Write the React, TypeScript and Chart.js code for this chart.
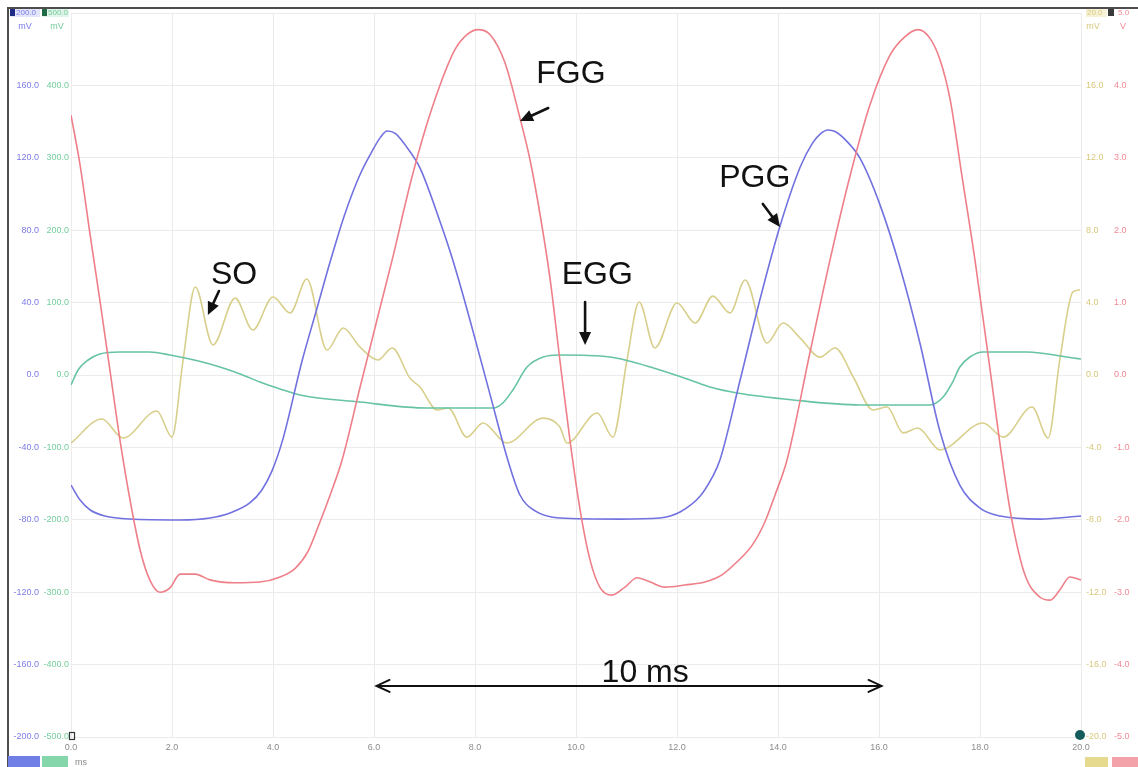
import React, { useEffect, useRef } from 'react';
import { Chart, registerables } from 'chart.js';

Chart.register(...registerables);

// ---- FGG (red, V) ----
const fggTimes = [
  0, 0.18, 0.38, 0.57, 0.77, 0.97, 1.17, 1.37, 1.56, 1.76,
  1.96, 2.16, 2.46, 2.75, 3.25, 3.74, 4.14, 4.44, 4.69, 4.93,
  5.13, 5.37, 5.72, 6.12, 6.36, 6.71, 7.01, 7.31, 7.6, 7.84,
  8.06, 8.3, 8.59, 8.89, 9.09, 9.29, 9.49, 9.68, 9.88, 10.08,
  10.28, 10.48, 10.71, 10.97, 11.21, 11.47, 11.76, 12.16, 12.55, 12.89,
  13.19, 13.49, 13.74, 13.94, 14.18, 14.63, 15.03, 15.43, 15.82, 16.22,
  16.51, 16.77, 17.01, 17.21, 17.41, 17.64, 17.9, 18.2, 18.44, 18.63,
  18.89, 19.19, 19.39, 19.58, 19.78, 20,
];
const fggVolts = [
  3.59, 2.9, 1.93, 1.04, 0.07, -0.9, -1.73, -2.42, -2.83, -3.0,
  -2.94, -2.75, -2.75, -2.83, -2.87, -2.86, -2.79, -2.67, -2.44, -2.03,
  -1.66, -1.17, -0.18, 0.93, 1.59, 2.62, 3.38, 4.01, 4.49, 4.7,
  4.77, 4.7, 4.32, 3.55, 2.97, 2.21, 1.31, 0.21, -0.9, -1.86,
  -2.56, -2.94, -3.04, -2.93, -2.8, -2.86, -2.93, -2.9, -2.86, -2.76,
  -2.58, -2.35, -2.03, -1.66, -1.17, 0.3, 1.59, 2.76, 3.73, 4.42,
  4.67, 4.77, 4.65, 4.35, 3.8, 2.76, 1.59, 0.07, -1.17, -2.0,
  -2.76, -3.07, -3.11, -2.97, -2.79, -2.83,
];

// ---- PGG (blue, mV) ----
const pggTimes = [
  0, 0.18, 0.38, 0.67, 1.17, 2.16, 2.75, 3.15, 3.54, 3.78,
  3.98, 4.2, 4.57, 4.85, 5.13, 5.43, 5.72, 5.95, 6.12, 6.26,
  6.42, 6.62, 6.91, 7.31, 7.56, 7.9, 8.3, 8.65, 8.89, 9.19,
  9.68, 10.87, 11.66, 12.06, 12.46, 12.69, 12.85, 13.25, 13.64, 14.04,
  14.44, 14.68, 14.85, 14.99, 15.13, 15.35, 15.62, 16.02, 16.42, 16.81,
  17.21, 17.6, 18.0, 18.4, 19.19, 20,
];
const pggMillivolts = [
  -60.8, -69.1, -74.6, -77.9, -79.6, -80.1, -79.0, -76.2, -70.7, -63.5,
  -53.0, -35.0, 7.2, 34.8, 62.4, 89.5, 110.5, 123.0, 131.0, 134.8,
  133.5, 127.0, 114.4, 84.5, 63.5, 30.4, -11.0, -47.0, -66.3, -75.1,
  -79.0, -79.6, -79.0, -75.7, -66.9, -56.9, -47.0, -2.8, 41.4, 82.3,
  114.9, 128.0, 133.5, 135.4, 134.5, 129.5, 119.9, 94.0, 59.1, 17.7,
  -31.5, -60.8, -73.5, -77.9, -79.6, -77.9,
];

// ---- EGG (green, mV) ----
const eggTimes = [
  0, 0.14, 0.34, 0.57, 0.97, 1.56, 1.96, 2.75, 3.35, 3.74,
  4.14, 4.53, 5.72, 7.05, 8.36, 8.55, 8.75, 9.03, 9.35, 9.68,
  10.67, 11.66, 12.26, 12.65, 13.19, 14.3, 15.62, 17.01, 17.27, 17.45,
  17.6, 17.8, 18.06, 18.93, 19.84, 20,
];
const eggMillivolts = [
  -13.8, 6.9, 20.7, 29.0, 31.8, 31.8, 27.6, 15.2, 1.4, -9.7,
  -19.3, -27.6, -37.3, -45.6, -45.6, -38.7, -20.7, 11.0, 24.9, 27.6,
  24.9, 6.9, -6.9, -16.6, -24.9, -34.5, -41.4, -41.4, -30.4, -11.0,
  11.0, 24.9, 31.8, 31.8, 23.5, 22.1,
];

// ---- SO (yellow, mV) ----
const soTimes = [
  0, 0.61, 1.03, 1.7, 2.0, 2.22, 2.46, 2.81, 3.25, 3.6,
  4.0, 4.34, 4.67, 5.07, 5.39, 5.72, 6.08, 6.36, 6.71, 6.91,
  7.25, 7.47, 7.84, 8.16, 8.63, 9.35, 9.68, 9.82, 10.42, 10.73,
  11.01, 11.25, 11.56, 12.0, 12.36, 12.71, 13.05, 13.35, 13.78, 14.1,
  14.44, 14.83, 15.13, 15.49, 15.88, 16.16, 16.48, 16.77, 17.21, 18.06,
  18.46, 19.03, 19.35, 19.58, 19.84, 19.98,
];
const soMillivolts = [
  -3.76, -2.43, -3.48, -1.99, -3.43, 0.83, 4.86, 1.66, 4.25, 2.49,
  4.31, 3.43, 5.3, 1.38, 2.6, 1.55, 0.83, 1.49, -0.17, -0.66,
  -1.93, -1.82, -3.43, -2.65, -3.76, -2.38, -2.87, -3.76, -2.1, -3.43,
  0.83, 4.03, 1.49, 3.98, 2.87, 4.36, 3.43, 5.25, 1.77, 2.87,
  2.04, 0.99, 1.49, -0.11, -1.93, -1.77, -3.2, -2.93, -4.14, -2.65,
  -3.43, -1.77, -3.48, 0.83, 4.59, 4.7,
];

// ---- axis ranges / ticks ----
const timeTicks = { min: 0, max: 20, step: 2 };
const blueAxis = { min: -200, max: 200, step: 40 };
const greenAxis = { min: -500, max: 500, step: 100 };
const yellowAxis = { min: -20, max: 20, step: 4 };
const redAxis = { min: -5, max: 5, step: 1 };

// ---- annotations (time ms, PGG-axis mV) ----
const annotationTexts = ['FGG', 'PGG', 'SO', 'EGG', '10 ms'];
const annotationTextX = [9.9, 13.54, 3.23, 10.42, 11.37];
const annotationTextY = [166, 109, 55, 55, -165];
const arrowFromX = [9.45, 13.7, 2.93, 10.18];
const arrowFromY = [147.5, 94.5, 46.4, 40.3];
const arrowToX = [8.89, 14.04, 2.71, 10.18];
const arrowToY = [140.3, 81.8, 33.1, 16.6];
const spanX = [6.05, 16.05];
const spanY = -171.8;

const COLORS = {
  red: '#ee7f88',
  blue: '#7171e0',
  green: '#66c3a3',
  yellow: '#d9cf8c',
  redTxt: '#f08a94',
  blueTxt: '#7b7be6',
  greenTxt: '#74cc9c',
  yellowTxt: '#d8c87c',
  grid: '#ebebeb',
};

const toPoints = (xs: number[], ys: number[]) => xs.map((x, i) => ({ x, y: ys[i] }));
const fmt = (v: number) => Number(v).toFixed(1);

function filledHead(ctx: CanvasRenderingContext2D, x1: number, y1: number, x2: number, y2: number) {
  const a = Math.atan2(y2 - y1, x2 - x1);
  const len = 13;
  const half = 6;
  ctx.beginPath();
  ctx.moveTo(x2, y2);
  ctx.lineTo(x2 - len * Math.cos(a) + half * Math.sin(a), y2 - len * Math.sin(a) - half * Math.cos(a));
  ctx.lineTo(x2 - len * Math.cos(a) - half * Math.sin(a), y2 - len * Math.sin(a) + half * Math.cos(a));
  ctx.closePath();
  ctx.fill();
}

const decorPlugin = {
  id: 'decor',
  afterDraw(chart: any) {
    const ctx: CanvasRenderingContext2D = chart.ctx;
    const sx = chart.scales.x;
    const sy = chart.scales.yB;
    const W = chart.width;
    const H = chart.height;
    ctx.save();

    // frame
    ctx.strokeStyle = '#4d4d4d';
    ctx.lineWidth = 2;
    ctx.beginPath();
    ctx.moveTo(8, H);
    ctx.lineTo(8, 8);
    ctx.lineTo(W, 8);
    ctx.stroke();

    ctx.font = '8px "Liberation Sans", Arial, sans-serif';
    ctx.textBaseline = 'middle';
    ctx.textAlign = 'left';

    // top-left range boxes
    ctx.fillStyle = '#e3e6fb';
    ctx.fillRect(10, 9, 30, 8);
    ctx.fillStyle = '#1d2a86';
    ctx.fillRect(10, 9, 5, 7);
    ctx.fillStyle = COLORS.blueTxt;
    ctx.fillText(fmt(blueAxis.max), 16, 13);
    ctx.fillStyle = '#e2f5ea';
    ctx.fillRect(42, 9, 27, 8);
    ctx.fillStyle = '#1f6a45';
    ctx.fillRect(42, 9, 5, 7);
    ctx.fillStyle = COLORS.greenTxt;
    ctx.fillText(fmt(greenAxis.max), 48, 13);

    // top-right range boxes
    ctx.fillStyle = '#f8f3d8';
    ctx.fillRect(1086, 9, 21, 8);
    ctx.fillStyle = COLORS.yellowTxt;
    ctx.fillText(fmt(yellowAxis.max), 1087, 13);
    ctx.fillStyle = '#3a3a3a';
    ctx.fillRect(1108, 9, 6, 7);
    ctx.fillStyle = COLORS.redTxt;
    ctx.fillText(fmt(redAxis.max), 1118, 13);

    // units
    ctx.font = '9px "Liberation Sans", Arial, sans-serif';
    ctx.textAlign = 'center';
    ctx.fillStyle = COLORS.blueTxt;
    ctx.fillText('mV', 25, 27);
    ctx.fillStyle = COLORS.greenTxt;
    ctx.fillText('mV', 57, 27);
    ctx.fillStyle = COLORS.yellowTxt;
    ctx.fillText('mV', 1093, 27);
    ctx.fillStyle = COLORS.redTxt;
    ctx.fillText('V', 1123, 27);
    ctx.fillStyle = '#8a8a8a';
    ctx.fillText('ms', 81, 763);

    // bottom boxes
    ctx.fillStyle = '#6f7fe6';
    ctx.fillRect(8, 756, 32, 11);
    ctx.fillStyle = '#86d6ab';
    ctx.fillRect(42, 756, 26, 11);
    ctx.fillStyle = '#e6da8e';
    ctx.fillRect(1085, 757, 23, 10);
    ctx.fillStyle = '#f4a2aa';
    ctx.fillRect(1112, 757, 26, 10);

    // small markers
    ctx.strokeStyle = '#333';
    ctx.lineWidth = 1.2;
    ctx.strokeRect(69.5, 732.5, 5, 7);
    ctx.fillStyle = '#175c5c';
    ctx.beginPath();
    ctx.arc(1080, 735, 5, 0, Math.PI * 2);
    ctx.fill();

    // annotation texts
    ctx.fillStyle = '#111';
    ctx.font = '32px "Liberation Sans", Arial, sans-serif';
    ctx.textAlign = 'center';
    ctx.textBaseline = 'middle';
    annotationTexts.forEach((t, i) => {
      ctx.fillText(t, sx.getPixelForValue(annotationTextX[i]), sy.getPixelForValue(annotationTextY[i]));
    });

    // arrows
    ctx.strokeStyle = '#111';
    ctx.lineWidth = 2.6;
    ctx.lineCap = 'round';
    arrowFromX.forEach((_, i) => {
      const x1 = sx.getPixelForValue(arrowFromX[i]);
      const y1 = sy.getPixelForValue(arrowFromY[i]);
      const x2 = sx.getPixelForValue(arrowToX[i]);
      const y2 = sy.getPixelForValue(arrowToY[i]);
      const a = Math.atan2(y2 - y1, x2 - x1);
      ctx.beginPath();
      ctx.moveTo(x1, y1);
      ctx.lineTo(x2 - 9 * Math.cos(a), y2 - 9 * Math.sin(a));
      ctx.stroke();
      filledHead(ctx, x1, y1, x2, y2);
    });

    // 10 ms span
    const xa = sx.getPixelForValue(spanX[0]);
    const xb = sx.getPixelForValue(spanX[1]);
    const ys = sy.getPixelForValue(spanY);
    ctx.lineWidth = 2;
    ctx.beginPath();
    ctx.moveTo(xa, ys);
    ctx.lineTo(xb, ys);
    ctx.moveTo(xa + 13, ys - 6);
    ctx.lineTo(xa, ys);
    ctx.lineTo(xa + 13, ys + 6);
    ctx.moveTo(xb - 13, ys - 6);
    ctx.lineTo(xb, ys);
    ctx.lineTo(xb - 13, ys + 6);
    ctx.stroke();

    ctx.restore();
  },
};

const tickFont = { size: 9, family: '"Liberation Sans", Arial, sans-serif' };

export default function App() {
  const ref = useRef<HTMLCanvasElement>(null);

  useEffect(() => {
    const lineDs = (label: string, xs: number[], ys: number[], color: string, axis: string) => ({
      label,
      data: toPoints(xs, ys),
      borderColor: color,
      backgroundColor: color,
      borderWidth: 1.6,
      pointRadius: 0,
      cubicInterpolationMode: 'monotone' as const,
      yAxisID: axis,
      fill: false,
    });

    const chart = new Chart(ref.current!, {
      type: 'line',
      data: {
        datasets: [
          lineDs('FGG', fggTimes, fggVolts, COLORS.red, 'yR'),
          lineDs('PGG', pggTimes, pggMillivolts, COLORS.blue, 'yB'),
          lineDs('EGG', eggTimes, eggMillivolts, COLORS.green, 'yG'),
          lineDs('SO', soTimes, soMillivolts, COLORS.yellow, 'yY'),
        ],
      },
      options: {
        animation: false,
        responsive: false,
        layout: { padding: { left: 8, top: 13, right: 0, bottom: 0 } },
        plugins: { legend: { display: false }, tooltip: { enabled: false } },
        scales: {
          x: {
            type: 'linear',
            position: 'bottom',
            min: timeTicks.min,
            max: timeTicks.max,
            ticks: {
              stepSize: timeTicks.step,
              callback: (v: any) => fmt(v),
              font: tickFont,
              color: '#8c8c8c',
              padding: 5,
              maxRotation: 0,
              autoSkip: false,
            },
            grid: { color: COLORS.grid, drawTicks: false },
            border: { display: false },
            afterFit: (s: any) => { s.height = 30; },
          },
          yB: {
            type: 'linear',
            position: 'left',
            weight: 1,
            min: blueAxis.min,
            max: blueAxis.max,
            ticks: {
              stepSize: blueAxis.step,
              callback: (v: any) => (v === blueAxis.max ? '' : fmt(v)),
              font: tickFont,
              color: COLORS.blueTxt,
              padding: 2,
            },
            grid: { color: COLORS.grid, drawTicks: false },
            border: { display: false },
            afterFit: (s: any) => { s.width = 33; },
          },
          yG: {
            type: 'linear',
            position: 'left',
            weight: 0,
            min: greenAxis.min,
            max: greenAxis.max,
            ticks: {
              stepSize: greenAxis.step,
              callback: (v: any) => (v === greenAxis.max ? '' : fmt(v)),
              font: tickFont,
              color: COLORS.greenTxt,
              padding: 2,
            },
            grid: { display: false, drawTicks: false },
            border: { display: false },
            afterFit: (s: any) => { s.width = 30; },
          },
          yY: {
            type: 'linear',
            position: 'right',
            weight: 0,
            min: yellowAxis.min,
            max: yellowAxis.max,
            ticks: {
              stepSize: yellowAxis.step,
              callback: (v: any) => (v === yellowAxis.max ? '' : fmt(v)),
              font: tickFont,
              color: COLORS.yellowTxt,
              padding: 5,
            },
            grid: { display: false, drawTicks: false },
            border: { display: false },
            afterFit: (s: any) => { s.width = 28; },
          },
          yR: {
            type: 'linear',
            position: 'right',
            weight: 1,
            min: redAxis.min,
            max: redAxis.max,
            ticks: {
              stepSize: redAxis.step,
              callback: (v: any) => (v === redAxis.max ? '' : fmt(v)),
              font: tickFont,
              color: COLORS.redTxt,
              padding: 5,
            },
            grid: { display: false, drawTicks: false },
            border: { display: false },
            afterFit: (s: any) => { s.width = 29; },
          },
        },
      } as any,
      plugins: [decorPlugin],
    });
    return () => chart.destroy();
  }, []);

  return (
    <canvas
      ref={ref}
      width={1138}
      height={767}
      style={{ position: 'fixed', left: 0, top: 0, width: 1138, height: 767, display: 'block', background: '#fff' }}
    />
  );
}
